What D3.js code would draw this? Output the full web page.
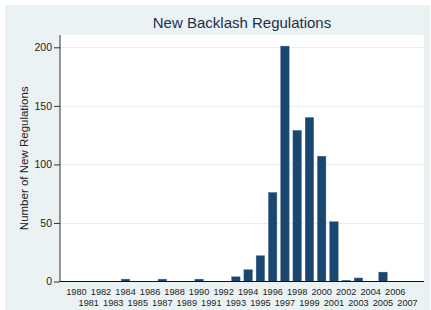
<!DOCTYPE html>
<html>
<head>
<meta charset="utf-8">
<style>
  body { margin: 0; background: #fff; }
  svg { display: block; font-family: "Liberation Sans", Arial, sans-serif; }
  .grid line { stroke: #e6eff1; stroke-width: 1; }
  .bar { fill: #1a476f; stroke: #3d6488; stroke-width: 0.4; }
</style>
</head>
<body>
<svg width="431" height="310"></svg>
<script src="https://d3js.org/d3.v7.min.js"></script>
<script>

// chart data
var years = d3.range(1980, 2008).map(String);
var regulations = [0, 0, 0, 0, 2, 0, 0, 2, 0, 0, 2, 0, 0, 4, 10, 22, 76, 201, 129, 140, 107, 51, 1, 3, 0, 8, 0, 0];
var yTicks = [0, 50, 100, 150, 200];

var svg = d3.select("svg"),
    width = +svg.attr("width"),
    height = +svg.attr("height");

// plot region
var plotLeft = 60, plotRight = 424, plotTop = 35, plotBottom = 281.5;

// graph region background
svg.append("rect")
    .attr("x", 5).attr("y", 5)
    .attr("width", 425).attr("height", height - 5)
    .style("fill", "#eaf2f3");

svg.append("rect")
    .attr("x", plotLeft).attr("y", plotTop)
    .attr("width", plotRight - plotLeft).attr("height", plotBottom - plotTop)
    .style("fill", "#ffffff");

var x = d3.scaleBand()
    .domain(years)
    .range([plotLeft, plotRight])
    .paddingInner(0.31)
    .paddingOuter(1.0);

var y = d3.scaleLinear()
    .domain([0, 210.5])
    .range([plotBottom, plotTop]);

// gridlines
svg.append("g")
    .attr("class", "grid")
    .selectAll("line")
    .data(yTicks.filter(function(d) { return d > 0; }))
    .enter().append("line")
    .attr("x1", plotLeft).attr("x2", plotRight)
    .attr("y1", function(d) { return Math.round(y(d)) + 0.5; })
    .attr("y2", function(d) { return Math.round(y(d)) + 0.5; });

// bars
svg.append("g")
    .selectAll("rect")
    .data(regulations)
    .enter().append("rect")
    .attr("class", "bar")
    .attr("x", function(d, i) { return x(years[i]); })
    .attr("width", x.bandwidth())
    .attr("y", function(d) { return y(d); })
    .attr("height", function(d) { return plotBottom - y(d); });

// y axis
var yAxis = svg.append("g")
    .attr("transform", "translate(" + plotLeft + ",0)")
    .call(d3.axisLeft(y).tickValues(yTicks).tickSize(6).tickPadding(2).tickSizeOuter(0));
yAxis.select(".domain").remove();
yAxis.append("line")
    .attr("x1", 0).attr("x2", 0)
    .attr("y1", plotTop).attr("y2", plotBottom)
    .style("stroke", "#333");
yAxis.selectAll(".tick line").style("stroke", "#333");
yAxis.selectAll(".tick text")
    .style("font-size", "10.5px")
    .style("fill", "#222")
    .style("font-family", "Liberation Sans, Arial, sans-serif");

// x axis: alternating label rows
var xAxis = svg.append("g")
    .attr("transform", "translate(0," + plotBottom + ")");
xAxis.append("line")
    .attr("x1", plotLeft).attr("x2", plotRight)
    .attr("y1", 0).attr("y2", 0)
    .style("stroke", "#111");
xAxis.selectAll("text")
    .data(years)
    .enter().append("text")
    .attr("x", function(d) { return x(d) + x.bandwidth() / 2; })
    .attr("y", function(d, i) { return i % 2 === 0 ? 13 : 24; })
    .attr("text-anchor", "middle")
    .style("font-size", "9.2px")
    .style("fill", "#222")
    .text(function(d) { return d; });

// titles
svg.append("text")
    .attr("x", (plotLeft + plotRight) / 2)
    .attr("y", 28)
    .attr("text-anchor", "middle")
    .style("font-size", "15px")
    .style("fill", "#1e2d4f")
    .text("New Backlash Regulations");

svg.append("text")
    .attr("transform", "translate(28," + ((plotTop + plotBottom) / 2) + ") rotate(-90)")
    .attr("text-anchor", "middle")
    .style("font-size", "11.5px")
    .style("fill", "#222")
    .text("Number of New Regulations");

</script>
</body>
</html>
